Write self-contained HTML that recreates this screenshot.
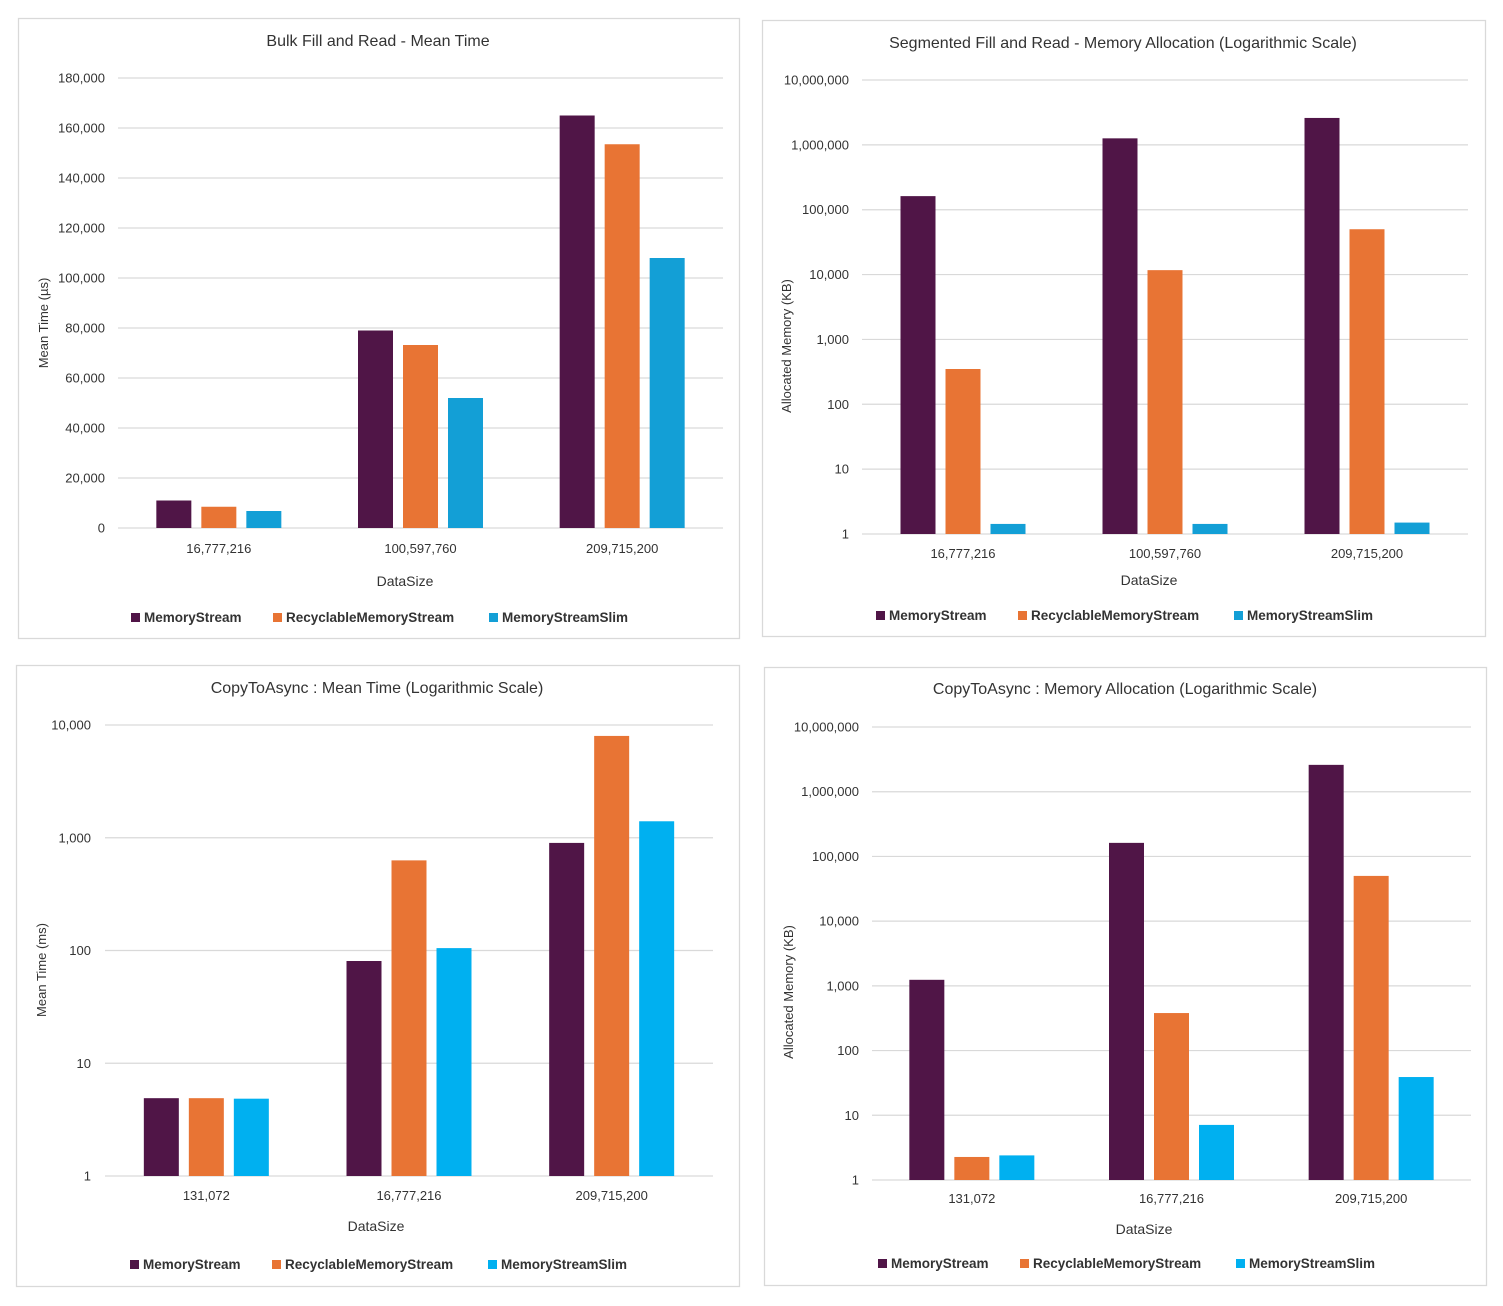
<!DOCTYPE html>
<html><head><meta charset="utf-8"><style>
html,body{margin:0;padding:0;background:#fff;}
svg{display:block;font-family:"Liberation Sans",sans-serif;}
</style></head><body>
<svg id="s" width="1503" height="1306" viewBox="0 0 1503 1306"></svg>
<script>
const seriesNames = ["MemoryStream","RecyclableMemoryStream","MemoryStreamSlim"];
// Chart 1: Bulk Fill and Read - Mean Time
const c1Categories = ["16,777,216","100,597,760","209,715,200"];
const c1MS = [11000, 79000, 165000];
const c1RMS = [8500, 73200, 153500];
const c1MSS = [6800, 52000, 108000];
const c1Ticks = [0,20000,40000,60000,80000,100000,120000,140000,160000,180000];
// Chart 2: Segmented Fill and Read - Memory Allocation
const c2Categories = ["16,777,216","100,597,760","209,715,200"];
const c2MS = [162000, 1260000, 2600000];
const c2RMS = [350, 11700, 50000];
const c2MSS = [1.43, 1.43, 1.5];
const c2Ticks = [1,10,100,1000,10000,100000,1000000,10000000];
// Chart 3: CopyToAsync Mean Time
const c3Categories = ["131,072","16,777,216","209,715,200"];
const c3MS = [4.9, 80.7, 900];
const c3RMS = [4.9, 630, 8000];
const c3MSS = [4.85, 105, 1400];
const c3Ticks = [1,10,100,1000,10000];
// Chart 4: CopyToAsync Memory Allocation
const c4Categories = ["131,072","16,777,216","209,715,200"];
const c4MS = [1240, 162000, 2600000];
const c4RMS = [2.27, 380, 50000];
const c4MSS = [2.4, 7.1, 39];
const c4Ticks = [1,10,100,1000,10000,100000,1000000,10000000];

const NS="http://www.w3.org/2000/svg";
const svg=document.getElementById('s');
function mk(tag,attrs,parent,text){const e=document.createElementNS(NS,tag);for(const k in attrs)e.setAttribute(k,attrs[k]);if(text!==undefined)e.textContent=text;(parent||svg).appendChild(e);return e;}
function fmt(v){return v.toLocaleString('en-US');}

function chart(cfg){
  const g=mk('g',{});
  
  
  const box=mk('rect',{x:cfg.box[0]+.5,y:cfg.box[1]+.5,width:cfg.box[2]-cfg.box[0],height:cfg.box[3]-cfg.box[1],fill:'#fff',stroke:'#d9d9d9','stroke-width':1.3},g);
  
  
  const t=mk('text',{x:cfg.titleX,y:cfg.titleY,'text-anchor':'middle','font-size':16,fill:'#333'},g,cfg.title);
  
  
  const [x0,x1,yTop,yBot]=cfg.plot;
  const minT=cfg.ticks[0],maxT=cfg.ticks[cfg.ticks.length-1];
  const yScale=cfg.log?(v=>yBot-(Math.log10(v)-Math.log10(minT))/(Math.log10(maxT)-Math.log10(minT))*(yBot-yTop))
                     :(v=>yBot-(v-minT)/(maxT-minT)*(yBot-yTop));
  cfg.ticks.forEach(tv=>{
    const y=yScale(tv);
    const gl=mk('line',{x1:x0,x2:x1,y1:y,y2:y,stroke:'#d9d9d9','stroke-width':1.2},g);
    
    
    const tl=mk('text',{x:cfg.tickX,y:y+4.5,'text-anchor':'end','font-size':13,fill:'#333'},g,fmt(tv));
    
    
  });
  const yc=cfg.yTitleY;
  const yt=mk('text',{x:cfg.yTitleX,y:yc,'text-anchor':'middle','font-size':13,fill:'#333',transform:`rotate(-90 ${cfg.yTitleX} ${yc})`},g,cfg.yTitle);
  
  
  const n=cfg.categories.length, step=(x1-x0)/n;
  const series=[cfg.s1,cfg.s2,cfg.s3];
  cfg.categories.forEach((c,i)=>{
    const cx=x0+step*(i+0.5);
    series.forEach((s,j)=>{
      const bx=cx+(j-1)*45-17.5, y=yScale(s[i]);
      const b=mk('rect',{x:bx,y:y,width:35,height:yBot-y,fill:cfg.colors[j]},g);
      
      
    });
    const xl=mk('text',{x:cx,y:cfg.xLabY,'text-anchor':'middle','font-size':13,fill:'#333'},g,c);
    
    
  });
  const xt=mk('text',{x:cfg.xTitleX,y:cfg.xTitleY,'text-anchor':'middle','font-size':14,fill:'#333'},g,'DataSize');
  
  
  seriesNames.forEach((nm,j)=>{
    const lx=cfg.legX[j];
    const sq=mk('rect',{x:lx,y:cfg.legY-9,width:9,height:9,fill:cfg.colors[j]},g);
    
    
    const lt=mk('text',{x:lx+13,y:cfg.legY,'font-size':13.5,'font-weight':'bold',fill:'#333'},g,nm);
    
    
  });
}
chart({name:'bulk-fill-mean-time-chart',box:[18,18,739,638],title:'Bulk Fill and Read - Mean Time',titleX:378,titleY:46,
  plot:[118,723,78,528],ticks:c1Ticks,log:false,tickX:105,yTitleX:48,yTitleY:323,yTitle:'Mean Time (µs)',
  categories:c1Categories,s1:c1MS,s2:c1RMS,s3:c1MSS,colors:['#501547','#e87434','#139fd6'],
  xLabY:553,xTitleX:405,xTitleY:586,legX:[131,273,489],legY:622});
chart({name:'segmented-memory-chart',box:[762,20,1485,636],title:'Segmented Fill and Read - Memory Allocation (Logarithmic Scale)',titleX:1123,titleY:48,
  plot:[862,1468,80,534],ticks:c2Ticks,log:true,tickX:849,yTitleX:791,yTitleY:346,yTitle:'Allocated Memory (KB)',
  categories:c2Categories,s1:c2MS,s2:c2RMS,s3:c2MSS,colors:['#501547','#e87434','#139fd6'],
  xLabY:558,xTitleX:1149,xTitleY:585,legX:[876,1018,1234],legY:620});
chart({name:'copytoasync-time-chart',box:[16,665,739,1286],title:'CopyToAsync : Mean Time (Logarithmic Scale)',titleX:377,titleY:693,
  plot:[105,713,725,1176],ticks:c3Ticks,log:true,tickX:91,yTitleX:46,yTitleY:970,yTitle:'Mean Time (ms)',
  categories:c3Categories,s1:c3MS,s2:c3RMS,s3:c3MSS,colors:['#501547','#e87434','#00b0f0'],
  xLabY:1200,xTitleX:376,xTitleY:1231,legX:[130,272,488],legY:1269});
chart({name:'copytoasync-memory-chart',box:[764,667,1486,1285],title:'CopyToAsync : Memory Allocation (Logarithmic Scale)',titleX:1125,titleY:694,
  plot:[872,1471,727,1180],ticks:c4Ticks,log:true,tickX:859,yTitleX:793,yTitleY:992,yTitle:'Allocated Memory (KB)',
  categories:c4Categories,s1:c4MS,s2:c4RMS,s3:c4MSS,colors:['#501547','#e87434','#00b0f0'],
  xLabY:1203,xTitleX:1144,xTitleY:1234,legX:[878,1020,1236],legY:1268});
</script>
</body></html>
